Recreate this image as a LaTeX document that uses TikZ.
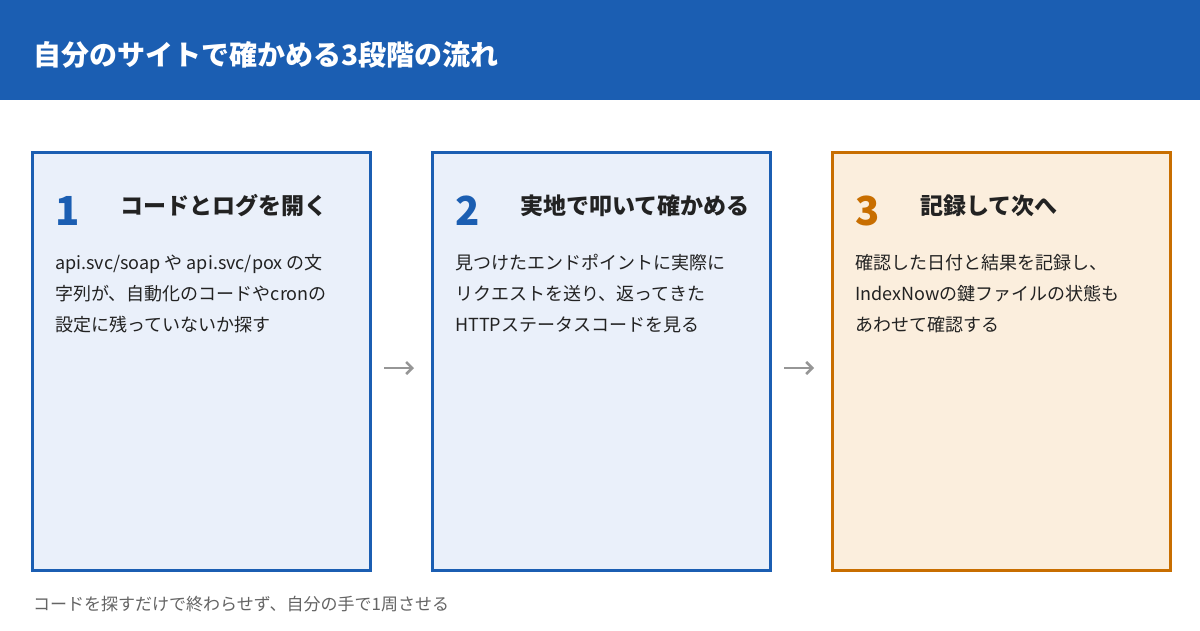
\documentclass[tikz,border=0pt]{standalone}
\usepackage{fontspec}
\setmainfont{Noto Sans CJK JP}
\definecolor{hdr}{RGB}{27,94,178}
\definecolor{bfill}{RGB}{234,240,250}
\definecolor{obord}{RGB}{200,110,0}
\definecolor{ofill}{RGB}{251,238,221}
\definecolor{txt}{RGB}{34,34,34}
\definecolor{arr}{RGB}{150,150,150}
\definecolor{foot}{RGB}{100,100,100}
\begin{document}
\begin{tikzpicture}[x=1pt,y=-1pt,
  box/.style={draw=hdr,fill=bfill,line width=2.5pt},
  obox/.style={draw=obord,fill=ofill,line width=2.5pt},
  num/.style={anchor=west,font=\fontsize{40}{40}\selectfont\bfseries,inner sep=0},
  head/.style={anchor=west,font=\fontsize{23}{23}\selectfont\bfseries,text=txt,inner sep=0},
  body/.style={anchor=north west,align=left,font=\fontsize{18}{31}\selectfont,text=txt,inner sep=0},
  ar/.style={draw=arr,line width=2.5pt,-{Straight Barb[length=6pt,width=12pt]}}]
\usetikzlibrary{arrows.meta}
\useasboundingbox (0,0) rectangle (1200,630);
\fill[white] (0,0) rectangle (1200,630);
\fill[hdr] (0,0) rectangle (1200,100);
\node[anchor=west,text=white,font=\fontsize{28}{28}\selectfont\bfseries,inner sep=0] (title) at (33,55) {自分のサイトで確かめる3段階の流れ};
\node[box,minimum width=338,minimum height=418,anchor=north west,inner sep=0] (b1) at (31,151) {};
\node[box,minimum width=338,minimum height=418,anchor=north west,inner sep=0] (b2) at (431,151) {};
\node[obox,minimum width=338,minimum height=418,anchor=north west,inner sep=0] (b3) at (831,151) {};
\node[num,text=hdr] (n1) at (55,211) {1};
\node[head] (h1) at (120,206) {コードとログを開く};
\node[body] (t1) at (55,254) {api.svc/soap や api.svc/pox の文\\字列が、自動化のコードやcronの\\設定に残っていないか探す};
\node[num,text=hdr] (n2) at (455,211) {2};
\node[head] (h2) at (520,206) {実地で叩いて確かめる};
\node[body] (t2) at (455,254) {見つけたエンドポイントに実際に\\リクエストを送り、返ってきた\\HTTPステータスコードを見る};
\node[num,text=obord] (n3) at (855,211) {3};
\node[head] (h3) at (920,206) {記録して次へ};
\node[body] (t3) at (855,254) {確認した日付と結果を記録し、\\IndexNowの鍵ファイルの状態も\\あわせて確認する};
\coordinate (a1s) at (384,368); \coordinate (a1e) at (414,368);
\coordinate (a2s) at (784,368); \coordinate (a2e) at (814,368);
\draw[ar] (a1s) -- (a1e);
\draw[ar] (a2s) -- (a2e);
\node[anchor=west,text=foot,font=\fontsize{17}{17}\selectfont,inner sep=0] (ft) at (33,604) {コードを探すだけで終わらせず、自分の手で1周させる};
\end{tikzpicture}
\end{document}
